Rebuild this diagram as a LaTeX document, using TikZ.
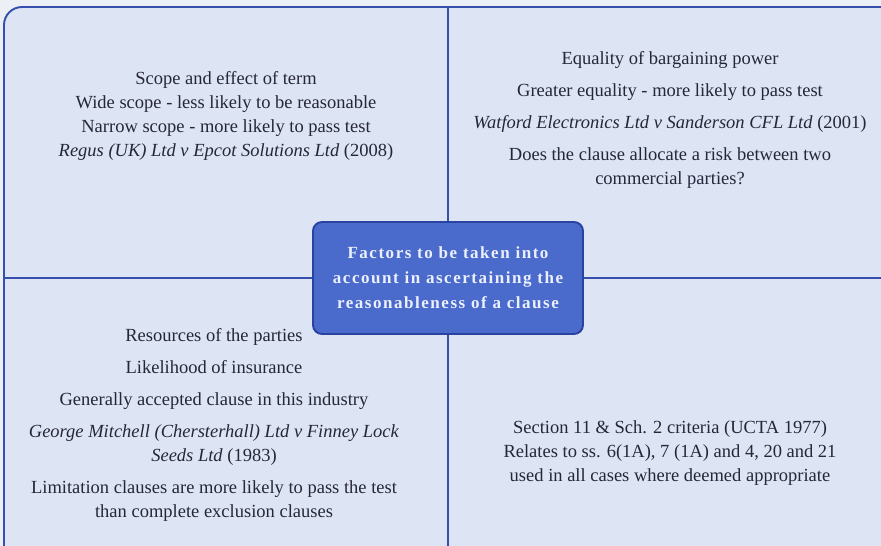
\documentclass[tikz,border=0pt]{standalone}
\usepackage{fontspec}
\setmainfont{Liberation Serif}
\newfontfamily\hubfont[LetterSpace=9]{Liberation Serif}

\definecolor{paper}{RGB}{236,239,246}
\definecolor{panel}{RGB}{221,229,244}
\definecolor{rule}{RGB}{52,80,172}
\definecolor{hubfill}{RGB}{74,106,204}
\definecolor{hubedge}{RGB}{42,66,160}
\definecolor{hubink}{RGB}{236,240,252}
\definecolor{ink}{RGB}{38,38,58}

\begin{document}
\begin{tikzpicture}[x=1pt,y=-1pt,
  rulestroke/.style={draw=rule, line width=1.9pt},
  quadtext/.style={anchor=north, align=center, inner sep=0pt, text=ink,
    font=\fontsize{18.5}{24}\selectfont},
  hubbox/.style={draw=hubedge, line width=1.9pt, fill=hubfill,
    rounded corners=9pt, minimum width=270pt, minimum height=112pt,
    align=center, text=hubink, inner sep=0pt, text depth=-4pt,
    font=\hubfont\bfseries\fontsize{17}{25}\selectfont}]

% canvas and frame
\useasboundingbox (0,0) rectangle (881,546);
\fill[paper] (0,0) rectangle (881,546);
\clip (0,0) rectangle (881,546);
\draw[rulestroke, fill=panel, rounded corners=18pt] (4,7) rectangle (910,575);

% central box
\node[hubbox] (hub) at (448,278)
  {Factors to be taken into\\account in ascertaining the\\reasonableness of a clause};

% ends of the dividing rules on the frame
\coordinate (ftop) at (hub.north |- 0,7);
\coordinate (fbot) at (hub.south |- 0,560);
\coordinate (fleft) at (hub.west -| 4,0);
\coordinate (fright) at (hub.east -| 900,0);

\draw[rulestroke] (hub.north) -- (ftop);
\draw[rulestroke] (hub.south) -- (fbot);
\draw[rulestroke] (hub.west) -- (fleft);
\draw[rulestroke] (hub.east) -- (fright);

% quadrant texts
\node[quadtext] (scope) at (226,71)
  {Scope and effect of term\\
   Wide scope - less likely to be reasonable\\
   Narrow scope - more likely to pass test\\
   \textit{Regus (UK) Ltd v Epcot Solutions Ltd} (2008)};

\node[quadtext] (equality) at (670,51)
  {Equality of bargaining power\\[8pt]
   Greater equality - more likely to pass test\\[8pt]
   \textit{Watford Electronics Ltd v Sanderson CFL Ltd} (2001)\\[8pt]
   Does the clause allocate a risk between two\\
   commercial parties?};

\node[quadtext] (resources) at (214,328)
  {Resources of the parties\\[8pt]
   Likelihood of insurance\\[8pt]
   Generally accepted clause in this industry\\[8pt]
   \textit{George Mitchell (Chersterhall) Ltd v Finney Lock}\\
   \textit{Seeds Ltd} (1983)\\[8pt]
   Limitation clauses are more likely to pass the test\\
   than complete exclusion clauses};

\node[quadtext] (ucta) at (670,420)
  {Section 11 \& Sch. 2 criteria (UCTA 1977)\\
   Relates to ss. 6(1A), 7 (1A) and 4, 20 and 21\\
   used in all cases where deemed appropriate};
\end{tikzpicture}
\end{document}
